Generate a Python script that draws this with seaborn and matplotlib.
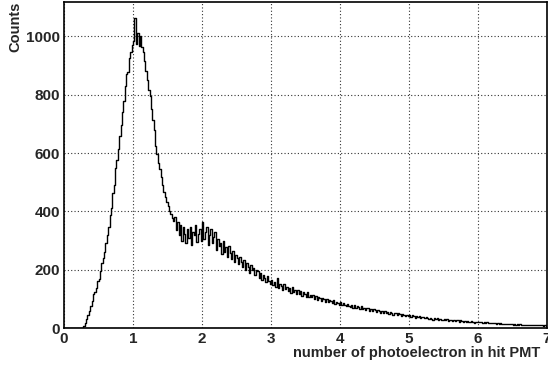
import matplotlib
matplotlib.use("Agg")
import matplotlib.pyplot as plt
import seaborn as sns
import numpy as np
import pandas as pd
from matplotlib.ticker import MultipleLocator

# histogram of photoelectrons per hit PMT, bin width 0.02 from 0 to 7
bin_width = 0.02
counts = [
    0, 0, 0, 0, 0, 0, 0, 0, 0, 0,
    0, 0, 0, 0, 6, 18, 30, 44, 58, 75,
    92, 118, 125, 138, 160, 168, 196, 222, 240, 262,
    290, 318, 345, 388, 410, 462, 490, 548, 575, 615,
    660, 695, 742, 780, 830, 870, 878, 925, 948, 972,
    985, 1062, 975, 1010, 968, 1000, 965, 945, 915, 880,
    850, 815, 795, 750, 715, 680, 625, 598, 565, 545,
    518, 492, 468, 450, 432, 418, 402, 392, 378, 368,
    380, 335, 362, 318, 352, 300, 345, 322, 290, 338,
    310, 345, 285, 330, 318, 352, 295, 322, 340, 300,
    362, 305, 330, 348, 285, 318, 340, 290, 312, 330,
    268, 305, 280, 292, 255, 300, 262, 278, 245, 282,
    258, 238, 265, 225, 250, 240, 218, 245, 228, 210,
    232, 200, 222, 208, 190, 215, 198, 205, 182, 200,
    195, 172, 190, 165, 182, 170, 158, 178, 162, 152,
    165, 148, 158, 140, 170, 138, 150, 145, 132, 150,
    135, 142, 128, 138, 120, 140, 125, 130, 118, 132,
    118, 128, 110, 122, 115, 108, 125, 106, 112, 108,
    112, 100, 110, 96, 108, 102, 92, 104, 98, 90,
    100, 88, 96, 92, 85, 95, 84, 90, 86, 80,
    90, 78, 86, 80, 74, 84, 76, 72, 80, 70,
    78, 68, 75, 72, 64, 74, 66, 70, 62, 68,
    70, 60, 66, 58, 64, 62, 55, 62, 58, 53,
    60, 52, 57, 50, 56, 49, 54, 51, 46, 52,
    52, 45, 50, 47, 42, 49, 44, 40, 46, 41,
    46, 38, 44, 40, 36, 42, 37, 40, 34, 38,
    38, 33, 37, 35, 31, 36, 32, 29, 35, 30,
    33, 28, 32, 29, 26, 31, 28, 30, 25, 28,
    29, 25, 28, 24, 27, 26, 22, 26, 24, 21,
    25, 21, 24, 22, 19, 23, 21, 18, 22, 20,
    21, 19, 20, 18, 20, 17, 19, 17, 18, 16,
    18, 16, 17, 15, 17, 14, 16, 14, 15, 13,
    15, 14, 15, 13, 14, 12, 14, 12, 13, 11,
    13, 12, 12, 11, 12, 10, 11, 10, 11, 9,
    11, 10, 10, 9, 10, 9, 10, 8, 9, 8,
]
n_bins = len(counts)
df = pd.DataFrame({
    "npe": (np.arange(n_bins) + 0.5) * bin_width,
    "counts": counts,
})

x_ticks = [0, 1, 2, 3, 4, 5, 6, 7]
y_ticks = [0, 200, 400, 600, 800, 1000]

sns.set_style("white")
plt.rcParams['font.family'] = ['Liberation Sans', 'DejaVu Sans']
plt.rcParams['font.weight'] = 'bold'

fig = plt.figure(figsize=(5.48, 3.68), dpi=100)
ax = fig.add_axes([64 / 548, 40 / 368, 483 / 548, 326 / 368])

sns.histplot(data=df, x="npe", weights="counts", binwidth=bin_width,
             binrange=(0, n_bins * bin_width), element="step", fill=False,
             color="black", linewidth=1.0, ax=ax)

ax.set_xlim(0, 7)
ax.set_ylim(0, 1118)
ax.set_xticks(x_ticks)
ax.set_yticks(y_ticks)
ax.xaxis.set_minor_locator(MultipleLocator(0.5))
ax.yaxis.set_minor_locator(MultipleLocator(50))
ax.set_xticklabels([str(v) for v in x_ticks], fontsize=11, fontweight='bold')
ax.set_yticklabels([str(v) for v in y_ticks], fontsize=11, fontweight='bold')
ax.tick_params(axis='x', which='major', direction='in', length=6.5, width=1, pad=3)
ax.tick_params(axis='x', which='minor', direction='in', length=3.5, width=1)
ax.tick_params(axis='y', which='major', direction='in', length=8.5, width=1, pad=3)
ax.tick_params(axis='y', which='minor', direction='in', length=5, width=1)
ax.grid(True, which='major', linestyle=(0, (1, 2)), color='#333333', linewidth=0.8)

for s in ax.spines.values():
    s.set_linewidth(1.2)
    s.set_color('black')

ax.set_xlabel("number of photoelectron in hit PMT", fontsize=10.5, fontweight='bold')
ax.xaxis.set_label_coords((540 - 64) / 483, -0.055)
ax.xaxis.label.set_horizontalalignment('right')
ax.xaxis.label.set_verticalalignment('top')
ax.set_ylabel("Counts", fontsize=10.5, fontweight='bold')
ax.yaxis.set_label_coords((15 - 64) / 483, 1.0)
ax.yaxis.label.set_verticalalignment('center')
ax.yaxis.label.set_horizontalalignment('right')

fig.savefig("out.png", dpi=100)
